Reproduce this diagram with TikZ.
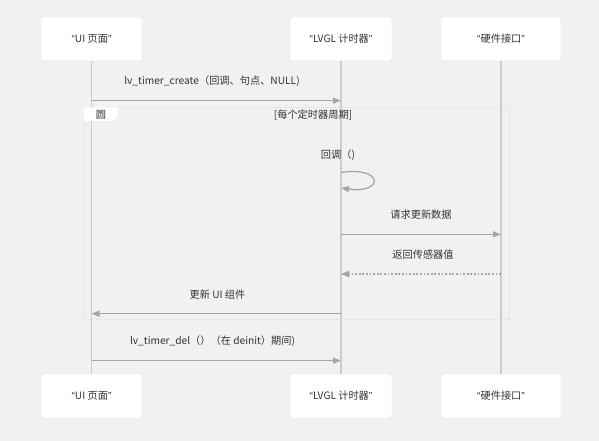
\documentclass[tikz,border=0pt]{standalone}
\usepackage{fontspec}
\setmainfont{Noto Sans CJK SC}
\newfontfamily\quotefont{Liberation Sans}
\usepackage{xcolor}
\usepackage{tikz}
\usetikzlibrary{arrows.meta, positioning}

\definecolor{bgcol}{HTML}{F2F1EF}
\definecolor{boxline}{HTML}{DDDDDD}
\definecolor{lifeline}{HTML}{CCCCCC}
\definecolor{arrowgray}{HTML}{A6A6A6}
\definecolor{ink}{HTML}{333333}
\newcommand{\seqfont}{\fontsize{10.2}{12}\selectfont}
\newcommand{\actorname}[1]{{\quotefont\char"201C}#1{\quotefont\char"201D}}

\begin{document}
\begin{tikzpicture}[x=1pt, y=-1pt,
  actor/.style={draw=boxline, fill=white, rounded corners=2pt, minimum height=44pt,
                font=\seqfont, text=ink, inner sep=0pt},
  life/.style={draw=lifeline, line width=1.3pt},
  msg/.style={-{Triangle[length=8pt, width=6pt]}, draw=arrowgray, line width=1.3pt},
  reply/.style={msg, dash pattern=on 1.8pt off 1.8pt},
  lbl/.style={font=\seqfont, text=ink, inner sep=0pt},
  loopframe/.style={draw=boxline, line width=0.9pt, dash pattern=on 1pt off 1pt},
]
  \fill[bgcol] (0,0) rectangle (599,441);
  \useasboundingbox (0,0) rectangle (599,441);

  % participants, top and bottom
  \node[actor, minimum width=101pt] (ui)    at (91.5,39)  {\actorname{UI 页面}};
  \node[actor, minimum width=102pt] (timer) at (341,39)   {\actorname{LVGL 计时器}};
  \node[actor, minimum width=120pt] (hw)    at (501,39)   {\actorname{硬件接口}};
  \node[actor, minimum width=101pt] (uiB)    at (91.5,396) {\actorname{UI 页面}};
  \node[actor, minimum width=102pt] (timerB) at (341,396)  {\actorname{LVGL 计时器}};
  \node[actor, minimum width=120pt] (hwB)    at (501,396)  {\actorname{硬件接口}};

  \draw[life] (ui) -- (uiB);
  \draw[life] (timer) -- (timerB);
  \draw[life] (hw) -- (hwB);

  % loop frame
  \draw[loopframe] (84,107.5) rectangle (509,319.5);
  \fill[white] (84,107.5) -- (118,107.5) -- (118,116) -- (113,121) -- (84,121) -- cycle;
  \node[lbl] (looptag) at (101,114.5) {圆};
  \node[lbl] (loopcond) at (313,115.5) {[每个定时器周期]};

  % messages
  \node[lbl] (m1) at (212,81.5) {lv\_timer\_create（回调、句点、NULL)};
  \draw[msg] (ui.south |- 0,100.7) -- (timer.south |- 0,100.7);

  \node[lbl] (m2) at (338,155) {回调（)};
  \coordinate (cbout) at (341,172.5);
  \coordinate (cbin)  at (341,188);
  \draw[msg] (cbout) .. controls (384,166) and (384,194) .. (cbin);

  \node[lbl] (m3) at (421,215) {请求更新数据};
  \draw[msg] (timer.south |- 0,234.3) -- (hw.south |- 0,234.3);

  \node[lbl] (m4) at (423,255) {返回传感器值};
  \draw[reply] (hw.south |- 0,274) -- (timer.south |- 0,274);

  \node[lbl] (m5) at (217.5,294.5) {更新 UI 组件};
  \draw[msg] (timer.south |- 0,313.7) -- (ui.south |- 0,313.7);

  \node[lbl] (m6) at (212.5,341.5) {lv\_timer\_del（）（在 deinit）期间)};
  \draw[msg] (ui.south |- 0,360.7) -- (timer.south |- 0,360.7);
\end{tikzpicture}
\end{document}
